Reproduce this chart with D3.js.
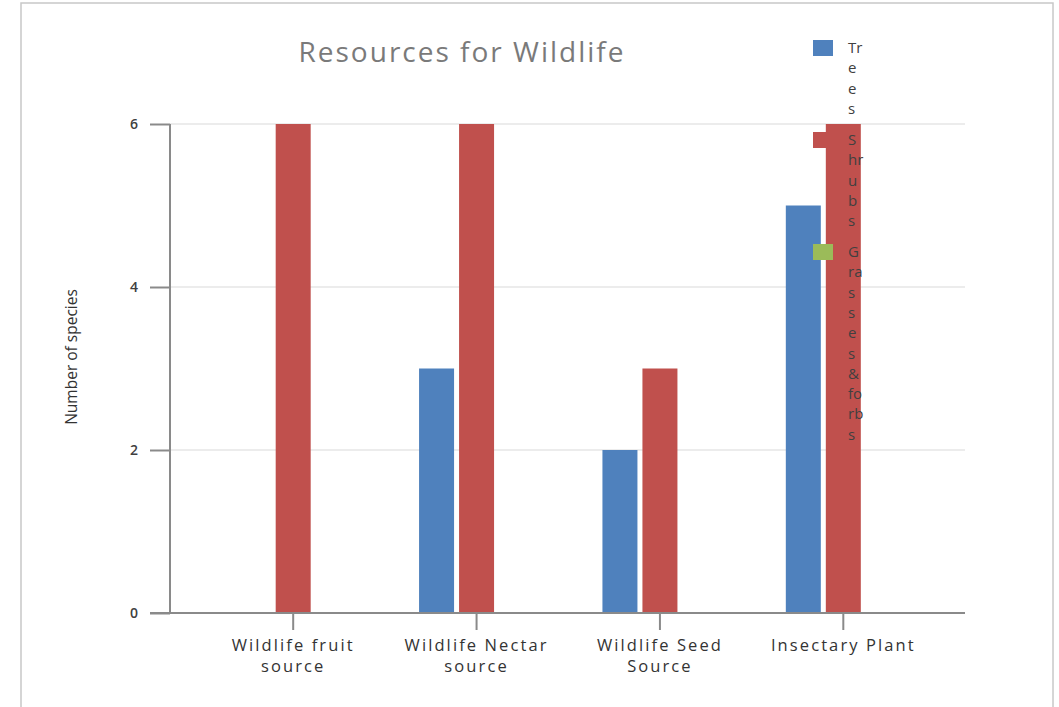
<!DOCTYPE html>
<html>
<head>
<meta charset="utf-8">
<script src="https://cdn.jsdelivr.net/npm/d3@7"></script>
<style>
  html, body { margin: 0; padding: 0; background: #fff; }
  svg { display: block; }
</style>
</head>
<body>
<svg id="chart" width="1059" height="707"></svg>
<script>
// ---- data ----
const categories = ["Wildlife fruit source", "Wildlife Nectar source", "Wildlife Seed Source", "Insectary Plant"];
const categoryLines = [["Wildlife fruit", "source"], ["Wildlife Nectar", "source"], ["Wildlife Seed", "Source"], ["Insectary Plant"]];
const seriesNames = ["Trees", "Shrubs", "Grasses & forbs"];
const treesValues = [0, 3, 2, 5];
const shrubsValues = [6, 6, 3, 6];
const grassesValues = [0, 0, 0, 0];
const yTicks = [0, 2, 4, 6];
const legendLines = [["Tr", "e", "e", "s"], ["S", "hr", "u", "b", "s"], ["G", "ra", "s", "s", "e", "s", "&", "fo", "rb", "s"]];
const colors = ["#4f81bd", "#c0504d", "#9bbb59"];
const titleText = "Resources for Wildlife";
const yLabel = "Number of species";

const seriesValues = [treesValues, shrubsValues, grassesValues];

const svg = d3.select("#chart");

// outer frame
svg.append("rect").attr("x", 21).attr("y", 3).attr("width", 1032).attr("height", 720)
  .attr("fill", "#fff").attr("stroke", "#c8c8c8").attr("stroke-width", 1.5);

const y = d3.scaleLinear().domain([0, 6]).range([613, 124]);
const x = d3.scaleBand().domain(categories).range([201.5, 935]).padding(0);
const xs = d3.scaleBand().domain(seriesNames).range([-57.5, 57.5]).paddingInner(0.125);

const axisColor = "#8a8a8a";
const textColor = "#404040";

// gridlines
svg.append("g").selectAll("line").data(yTicks.filter(d => d > 0)).join("line")
  .attr("x1", 170).attr("x2", 965)
  .attr("y1", d => y(d)).attr("y2", d => y(d))
  .attr("stroke", "#d9d9d9").attr("stroke-width", 1.2);

// bars
const groups = svg.append("g").selectAll("g").data(seriesNames).join("g")
  .attr("fill", (d, i) => colors[i]);
groups.selectAll("rect").data((s, si) => categories.map((c, ci) => ({ c, s, v: seriesValues[si][ci] })))
  .join("rect")
  .attr("x", d => x(d.c) + x.bandwidth() / 2 + xs(d.s))
  .attr("width", xs.bandwidth())
  .attr("y", d => y(d.v))
  .attr("height", d => y(0) - y(d.v));

// y axis
const yAxis = d3.axisLeft(y).tickValues(yTicks).tickSize(20).tickPadding(12).tickFormat(d3.format("d"));
const gy = svg.append("g").attr("transform", "translate(170,0)").call(yAxis);
gy.select(".domain").attr("stroke", axisColor).attr("stroke-width", 2).attr("d", `M0,${y(6)}V${y(0)}`);
gy.selectAll(".tick line").attr("stroke", axisColor).attr("stroke-width", 2);
gy.selectAll(".tick text").attr("fill", textColor).attr("font-family", "'Open Sans', sans-serif")
  .attr("font-size", 14).attr("font-weight", 600);

// x axis
const xAxis = d3.axisBottom(x).tickSize(17).tickFormat("");
const gx = svg.append("g").attr("transform", `translate(0,${y(0)})`).call(xAxis);
gx.select(".domain").attr("stroke", axisColor).attr("stroke-width", 2).attr("d", "M150,0H965");
gx.selectAll(".tick line").attr("stroke", axisColor).attr("stroke-width", 2);

// category labels
const lab = svg.append("g").selectAll("text").data(categories).join("text")
  .attr("x", d => x(d) + x.bandwidth() / 2)
  .attr("y", 651)
  .attr("text-anchor", "middle")
  .attr("font-family", "'Open Sans', sans-serif").attr("font-size", 16.5)
  .attr("letter-spacing", 2.1)
  .attr("fill", "#333");
lab.selectAll("tspan").data((d, i) => categoryLines[i]).join("tspan")
  .attr("x", function () { return d3.select(this.parentNode).attr("x"); })
  .attr("dy", (d, i) => i === 0 ? 0 : 21)
  .text(d => d);

// title
svg.append("text").attr("x", 462).attr("y", 62).attr("text-anchor", "middle")
  .attr("font-family", "'Open Sans', sans-serif").attr("font-size", 28)
  .attr("letter-spacing", 2)
  .attr("fill", "#7a7a7a").text(titleText);

// y label
svg.append("text").attr("transform", "translate(77,357) rotate(-90)").attr("text-anchor", "middle")
  .attr("font-family", "'Open Sans', sans-serif").attr("font-size", 15.5)
  .attr("fill", "#333").text(yLabel);

// legend
const legendTop = [48, 140, 252];
const leg = svg.append("g").selectAll("g").data(seriesNames).join("g")
  .attr("transform", (d, i) => `translate(813,${legendTop[i]})`);
leg.append("rect").attr("x", 0).attr("y", -8).attr("width", 20).attr("height", 16)
  .attr("fill", (d, i) => colors[i]);
leg.append("text").attr("x", 35).attr("y", 5)
  .attr("font-family", "'Open Sans', sans-serif").attr("font-size", 15).attr("fill", textColor)
  .selectAll("tspan").data((d, i) => legendLines[i]).join("tspan")
  .attr("x", 35).attr("dy", (d, i) => i === 0 ? 0 : 20.3).text(d => d);
</script>
</body>
</html>
